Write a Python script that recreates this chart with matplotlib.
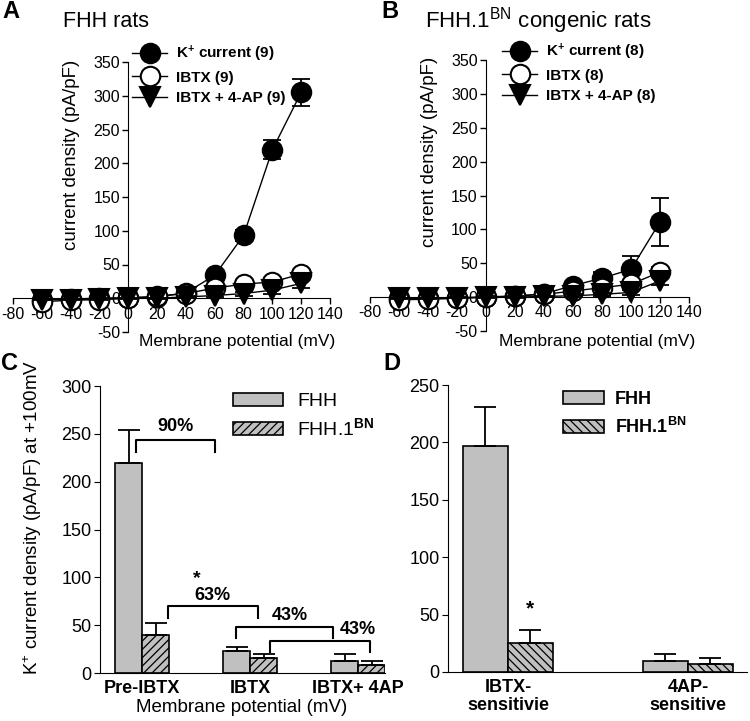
import matplotlib
matplotlib.use('Agg')
import matplotlib.pyplot as plt
import numpy as np

plt.rcParams['font.family'] = ['Liberation Sans', 'DejaVu Sans']
plt.rcParams['mathtext.fontset'] = 'custom'
plt.rcParams['mathtext.rm'] = 'Liberation Sans'
plt.rcParams['mathtext.bf'] = 'Liberation Sans:bold'
plt.rcParams['mathtext.it'] = 'Liberation Sans:italic'
plt.rcParams['hatch.linewidth'] = 0.9
plt.rcParams['axes.unicode_minus'] = False

# ---------------- data ----------------
V = [-60, -40, -20, 0, 20, 40, 60, 80, 100, 120]

A_k = [-2, -1, 0, 1, 2, 8, 34, 93, 220, 305]
A_k_err = [2, 2, 2, 2, 2, 3, 5, 8, 14, 20]
A_ibtx = [-5, -3, -2, 0, 3, 7, 15, 21, 24, 36]
A_ibtx_err = [2, 2, 2, 2, 2, 2, 3, 3, 4, 5]
A_4ap = [-2, -2, -1, 0, 0, 2, 4, 7, 12, 22]
A_4ap_err = [1, 1, 1, 1, 1, 2, 2, 3, 5, 7]

B_k = [-2, -1, -1, 0, 1, 5, 17, 28, 41, 111]
B_k_err = [1, 1, 1, 1, 2, 3, 4, 9, 20, 36]
B_ibtx = [-4, -3, -2, 0, 2, 4, 9, 14, 19, 37]
B_ibtx_err = [1, 1, 1, 1, 1, 2, 3, 4, 5, 7]
B_4ap = [-2, -2, -1, 0, 0, 1, 2, 4, 7, 24]
B_4ap_err = [1, 1, 1, 1, 1, 1, 2, 2, 4, 6]

C_cats = ['Pre-IBTX', 'IBTX', 'IBTX+ 4AP']
C_fhh = [220, 23, 13]
C_fhh_err = [34, 4, 7]
C_bn = [40, 16, 8]
C_bn_err = [12, 4, 5]

D_cats = ['IBTX-\nsensitivie', '4AP-\nsensitive']
D_fhh = [197, 10]
D_fhh_err = [34, 6]
D_bn = [25, 7]
D_bn_err = [12, 5]

# brackets in panel C: (x_left, x_right, y_top, y_leg_bottom, label, label_x, label_y)
C_brackets = [
    (-0.056, 0.676, 244, 231, '90%', 0.31, 258),
    (0.24, 1.074, 70, 58, '63%', 0.65, 81),
    (0.87, 1.77, 48, 37, '43%', 1.37, 60),
    (1.185, 2.11, 33, 22, '43%', 2.0, 45),
]

W, H = 750, 721
fig = plt.figure(figsize=(7.5, 7.21), dpi=100)


def rect(l, t, r, b):
    return [l / W, 1 - b / H, (r - l) / W, (b - t) / H]


def fx(x):
    return x / W


def fy(y):
    return 1 - y / H


def xy_panel(ax, series, n, leg_anchor):
    labels = [r'K$^{\mathbf{+}}$ current (%d)' % n, 'IBTX (%d)' % n, 'IBTX + 4-AP (%d)' % n]
    styles = [dict(marker='o', mfc='k'), dict(marker='o', mfc='white'), dict(marker='v', mfc='k')]
    for (y, e), lab, st in zip(series, labels, styles):
        ax.errorbar(V, y, yerr=e, fmt='none', ecolor='k', elinewidth=1.3,
                    capsize=6.5, capthick=1.3)
        ax.plot(V, y, color='k', lw=1.0, ms=14, mec='k', mew=1.5, label=lab, **st)
    ax.set_xlim(-80, 140)
    ax.set_ylim(-50, 350)
    ax.spines['left'].set_position(('data', 0))
    ax.spines['bottom'].set_position(('data', 0))
    ax.spines['top'].set_visible(False)
    ax.spines['right'].set_visible(False)
    ax.set_xticks(np.arange(-80, 141, 20))
    ax.set_yticks(np.arange(-50, 351, 50))
    ax.tick_params(direction='out', length=4, width=1, labelsize=11.5, pad=2)
    ax.patch.set_alpha(0)
    ax.legend(loc='upper left', bbox_to_anchor=leg_anchor, bbox_transform=fig.transFigure,
              frameon=False, borderpad=0, borderaxespad=0, handlelength=2.3,
              handletextpad=0.6, labelspacing=0.42, prop={'weight': 'bold', 'size': 11})


# Panel A
axA = fig.add_axes(rect(13, 62, 330, 332))
xy_panel(axA, [(A_k, A_k_err), (A_ibtx, A_ibtx_err), (A_4ap, A_4ap_err)], 9, (fx(132), fy(44)))
fig.text(fx(2), fy(11), 'A', fontsize=17, fontweight='bold', va='center', ha='left')
fig.text(fx(63), fy(27), 'FHH rats', fontsize=15.5, va='baseline', ha='left')
fig.text(fx(72), fy(155), 'current density (pA/pF)', fontsize=13.5, rotation=90, ha='center', va='center')
fig.text(fx(237), fy(346), 'Membrane potential (mV)', fontsize=12.5, ha='center', va='baseline')

# Panel B
axB = fig.add_axes(rect(370, 60, 689, 331))
xy_panel(axB, [(B_k, B_k_err), (B_ibtx, B_ibtx_err), (B_4ap, B_4ap_err)], 8, (fx(502), fy(42)))
fig.text(fx(381), fy(11), 'B', fontsize=17, fontweight='bold', va='center', ha='left')
fig.text(fx(425), fy(27), r'FHH.1$^{\mathrm{BN}}$ congenic rats', fontsize=16, va='baseline', ha='left')
fig.text(fx(430), fy(152), 'current density (pA/pF)', fontsize=13.5, rotation=90, ha='center', va='center')
fig.text(fx(597), fy(346), 'Membrane potential (mV)', fontsize=12.5, ha='center', va='baseline')

GREY = '#c0c0c0'
ekw = dict(capsize=8, elinewidth=1.3, capthick=1.3, ecolor='k')

# Panel C
axC = fig.add_axes(rect(100, 386, 385, 673))
xc = np.arange(len(C_cats))
axC.bar(xc - 0.125, C_fhh, 0.25, yerr=[np.zeros(len(C_fhh)), C_fhh_err], color=GREY,
        edgecolor='k', lw=1.2, error_kw=ekw, label='FHH', zorder=2)
axC.bar(xc + 0.125, C_bn, 0.25, yerr=[np.zeros(len(C_bn)), C_bn_err], color=GREY,
        edgecolor='k', lw=1.2, hatch='////', error_kw=ekw, label=r'FHH.1$^{\mathbf{BN}}$', zorder=2)
for x0, x1, yt, yb, lab, lx, ly in C_brackets:
    axC.plot([x0, x0, x1, x1], [yb, yt, yt, yb], color='k', lw=1.5, clip_on=False)
    axC.text(lx, ly, lab, fontsize=13, fontweight='bold', ha='center', va='center')
axC.text(0.51, 90, '*', fontsize=14, fontweight='bold', ha='center', va='bottom')
axC.set_xlim(-0.389, 2.25)
axC.set_ylim(0, 300)
axC.set_yticks(np.arange(0, 301, 50))
axC.set_xticks(xc, C_cats)
for t in axC.get_xticklabels():
    t.set_fontweight('bold')
axC.tick_params(axis='x', length=0, labelsize=13, pad=5)
axC.tick_params(axis='y', direction='out', length=4, labelsize=13, pad=2)
axC.spines['top'].set_visible(False)
axC.spines['right'].set_visible(False)
axC.legend(loc='upper left', bbox_to_anchor=(fx(233), fy(393)), bbox_transform=fig.transFigure,
           frameon=False, borderpad=0, borderaxespad=0, fontsize=14, handlelength=2.57,
           handleheight=0.67, handletextpad=0.72, labelspacing=0.35)
fig.text(fx(1), fy(363), 'C', fontsize=17, fontweight='bold', va='center', ha='left')
fig.text(fx(33), fy(517), r'K$^{+}$ current density (pA/pF) at +100mV', fontsize=13.5,
         rotation=90, ha='center', va='center')
fig.text(fx(242), fy(708), 'Membrane potential (mV)', fontsize=13.5, ha='center', va='center')

# Panel D
axD = fig.add_axes(rect(448, 385, 747, 672))
xd = np.arange(len(D_cats))
axD.bar(xd - 0.125, D_fhh, 0.25, yerr=[np.zeros(len(D_fhh)), D_fhh_err], color=GREY,
        edgecolor='k', lw=1.2, error_kw=ekw, label='FHH', zorder=2)
axD.bar(xd + 0.125, D_bn, 0.25, yerr=[np.zeros(len(D_bn)), D_bn_err], color=GREY,
        edgecolor='k', lw=1.2, hatch='\\\\\\\\', error_kw=ekw, label=r'FHH.1$^{\mathbf{BN}}$', zorder=2)
axD.text(0.125, 55, '*', fontsize=15, fontweight='bold', ha='center', va='center')
axD.set_xlim(-0.333, 1.328)
axD.set_ylim(0, 250)
axD.set_yticks(np.arange(0, 251, 50))
axD.set_xticks(xd, D_cats)
for t in axD.get_xticklabels():
    t.set_fontweight('bold')
    t.set_linespacing(1.1)
axD.tick_params(axis='x', length=0, labelsize=13, pad=5)
axD.tick_params(axis='y', direction='out', length=4, labelsize=13, pad=2)
axD.spines['top'].set_visible(False)
axD.spines['right'].set_visible(False)
axD.legend(loc='upper left', bbox_to_anchor=(fx(563), fy(391)), bbox_transform=fig.transFigure,
           frameon=False, borderpad=0, borderaxespad=0, handlelength=2.27,
           handleheight=0.72, handletextpad=0.6, labelspacing=0.5,
           prop={'weight': 'bold', 'size': 13})
fig.text(fx(383), fy(364), 'D', fontsize=17, fontweight='bold', va='center', ha='left')

fig.savefig('out.png', dpi=100)
